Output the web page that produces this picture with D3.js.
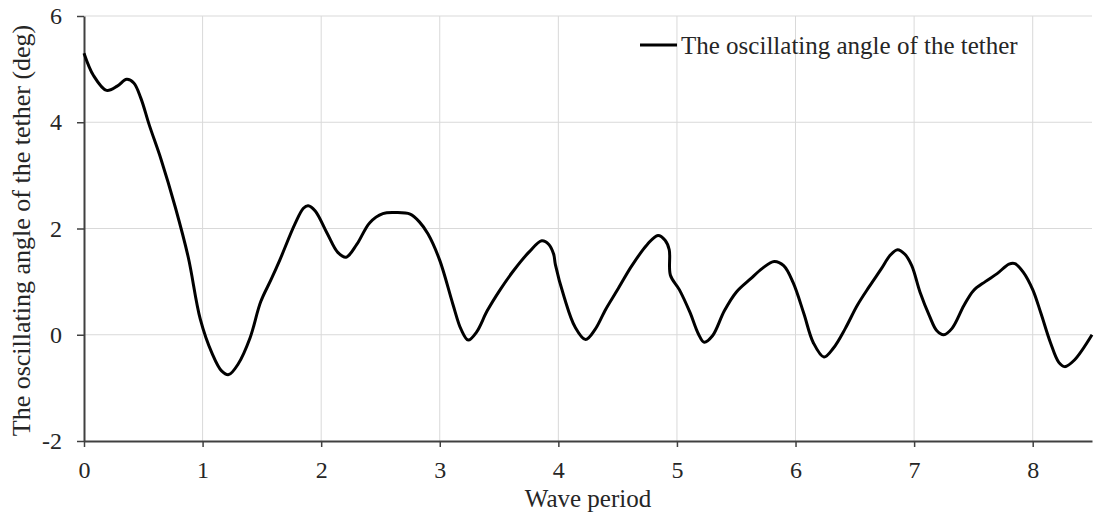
<!DOCTYPE html>
<html>
<head>
<meta charset="utf-8">
<script src="https://cdn.jsdelivr.net/npm/d3@7"></script>
<style>
  html, body { margin: 0; padding: 0; background: #fff; }
  svg { display: block; }
  text { font-family: "Liberation Serif", "Times New Roman", serif; fill: #262626; }
</style>
</head>
<body>
<svg id="chart" width="1094" height="521"></svg>
<script>
// Wave period (x) and oscillating angle of the tether in degrees (y)
const wavePeriod = [
  0, 0.08, 0.19, 0.28, 0.36, 0.42, 0.48, 0.55, 0.65, 0.77, 0.88, 0.98,
  1.08, 1.16, 1.22, 1.30, 1.40, 1.49, 1.58, 1.65, 1.78, 1.85, 1.89, 1.95,
  2.05, 2.14, 2.21, 2.30, 2.41, 2.52, 2.63, 2.75, 2.83, 2.90, 3.00, 3.11,
  3.18, 3.24, 3.31, 3.40, 3.51, 3.62, 3.75, 3.86, 3.92, 3.96, 3.975, 4.05,
  4.14, 4.23, 4.31, 4.40, 4.50, 4.62, 4.75, 4.84, 4.90, 4.935, 4.945, 5.02,
  5.11, 5.18, 5.23, 5.30, 5.40, 5.50, 5.62, 5.72, 5.82, 5.90, 5.98, 6.07,
  6.15, 6.24, 6.32, 6.42, 6.52, 6.62, 6.72, 6.80, 6.86, 6.92, 6.98, 7.05,
  7.13, 7.19, 7.25, 7.32, 7.42, 7.50, 7.60, 7.70, 7.80, 7.85, 7.92, 8.00,
  8.07, 8.15, 8.22, 8.27, 8.35, 8.50
];
const tetherAngle = [
  5.30, 4.88, 4.60, 4.68, 4.81, 4.74, 4.45, 3.95, 3.30, 2.40, 1.45, 0.30,
  -0.35, -0.68, -0.75, -0.55, -0.06, 0.62, 1.05, 1.40, 2.09, 2.38, 2.43, 2.33,
  1.91, 1.55, 1.46, 1.70, 2.11, 2.28, 2.30, 2.27, 2.12, 1.90, 1.40, 0.58,
  0.10, -0.10, 0.05, 0.45, 0.85, 1.20, 1.55, 1.77, 1.70, 1.52, 1.32, 0.70,
  0.15, -0.09, 0.10, 0.48, 0.85, 1.30, 1.70, 1.87, 1.78, 1.60, 1.12, 0.85,
  0.42, 0.02, -0.14, -0.02, 0.45, 0.80, 1.05, 1.25, 1.38, 1.30, 0.98, 0.40,
  -0.15, -0.42, -0.25, 0.12, 0.55, 0.90, 1.23, 1.50, 1.60, 1.52, 1.30, 0.80,
  0.35, 0.08, 0.00, 0.12, 0.55, 0.83, 1.00, 1.15, 1.33, 1.34, 1.18, 0.85,
  0.40, -0.15, -0.52, -0.60, -0.48, 0.00
];
const xTicks = [0, 1, 2, 3, 4, 5, 6, 7, 8];
const yTicks = [-2, 0, 2, 4, 6];
const seriesName = "The oscillating angle of the tether";
const xTitle = "Wave period";
const yTitle = "The oscillating angle of the tether (deg)";

const svg = d3.select("#chart");
const margin = { left: 84, top: 16, right: 2, bottom: 80 };
const W = 1094, H = 521;
const serif = '"Liberation Serif", "Times New Roman", serif';

const x = d3.scaleLinear().domain([0, 8.5]).range([margin.left, W - margin.right]);
const y = d3.scaleLinear().domain([-2, 6]).range([H - margin.bottom, margin.top]);

// gridlines
const grid = svg.append("g");
grid.selectAll("line.v").data(xTicks.filter(d => d > 0)).join("line")
  .attr("x1", d => x(d)).attr("x2", d => x(d))
  .attr("y1", y(6)).attr("y2", y(-2))
  .attr("stroke", "#d9d9d9").attr("stroke-width", 1);
grid.selectAll("line.h").data(yTicks.filter(d => d > -2)).join("line")
  .attr("x1", x(0)).attr("x2", x(8.5))
  .attr("y1", d => y(d)).attr("y2", d => y(d))
  .attr("stroke", "#d9d9d9").attr("stroke-width", 1);

// axes
const fmt = d => String(d);
const xAxis = svg.append("g")
  .attr("transform", `translate(0,${y(-2)})`)
  .call(d3.axisBottom(x).tickValues(xTicks).tickFormat(fmt).tickSize(6).tickPadding(14).tickSizeOuter(0));
const yAxis = svg.append("g")
  .attr("transform", `translate(${x(0)},0)`)
  .call(d3.axisLeft(y).tickValues(yTicks).tickFormat(fmt).tickSize(7).tickPadding(15).tickSizeOuter(0));
[xAxis, yAxis].forEach(a => {
  a.select(".domain").attr("stroke", "#404040").attr("stroke-width", 2);
  a.selectAll(".tick line").attr("stroke", "#404040").attr("stroke-width", 1.5);
  a.selectAll(".tick text")
    .style("font-family", serif)
    .style("font-size", "24px").attr("fill", "#262626");
});

// series line
const pts = wavePeriod.map((d, i) => [d, tetherAngle[i]]);
svg.append("path")
  .datum(pts)
  .attr("fill", "none")
  .attr("stroke", "#000")
  .attr("stroke-width", 3)
  .attr("stroke-linejoin", "round")
  .attr("d", d3.line().x(d => x(d[0])).y(d => y(d[1])).curve(d3.curveCatmullRom.alpha(0.5)));

// axis titles
svg.append("text")
  .attr("x", x(4.25)).attr("y", 507)
  .attr("text-anchor", "middle")
  .style("font-size", "25px")
  .text(xTitle);
svg.append("text")
  .attr("transform", `translate(30,${(y(6) + y(-2)) / 2 + 2}) rotate(-90)`)
  .attr("text-anchor", "middle")
  .style("font-size", "26px")
  .text(yTitle);

// legend
const lg = svg.append("g").attr("transform", "translate(640,45)");
lg.append("line").attr("x1", 0).attr("x2", 37).attr("y1", 0).attr("y2", 0)
  .attr("stroke", "#000").attr("stroke-width", 3);
lg.append("text").attr("x", 41).attr("y", 9)
  .style("font-size", "25px")
  .text(seriesName);
</script>
</body>
</html>
